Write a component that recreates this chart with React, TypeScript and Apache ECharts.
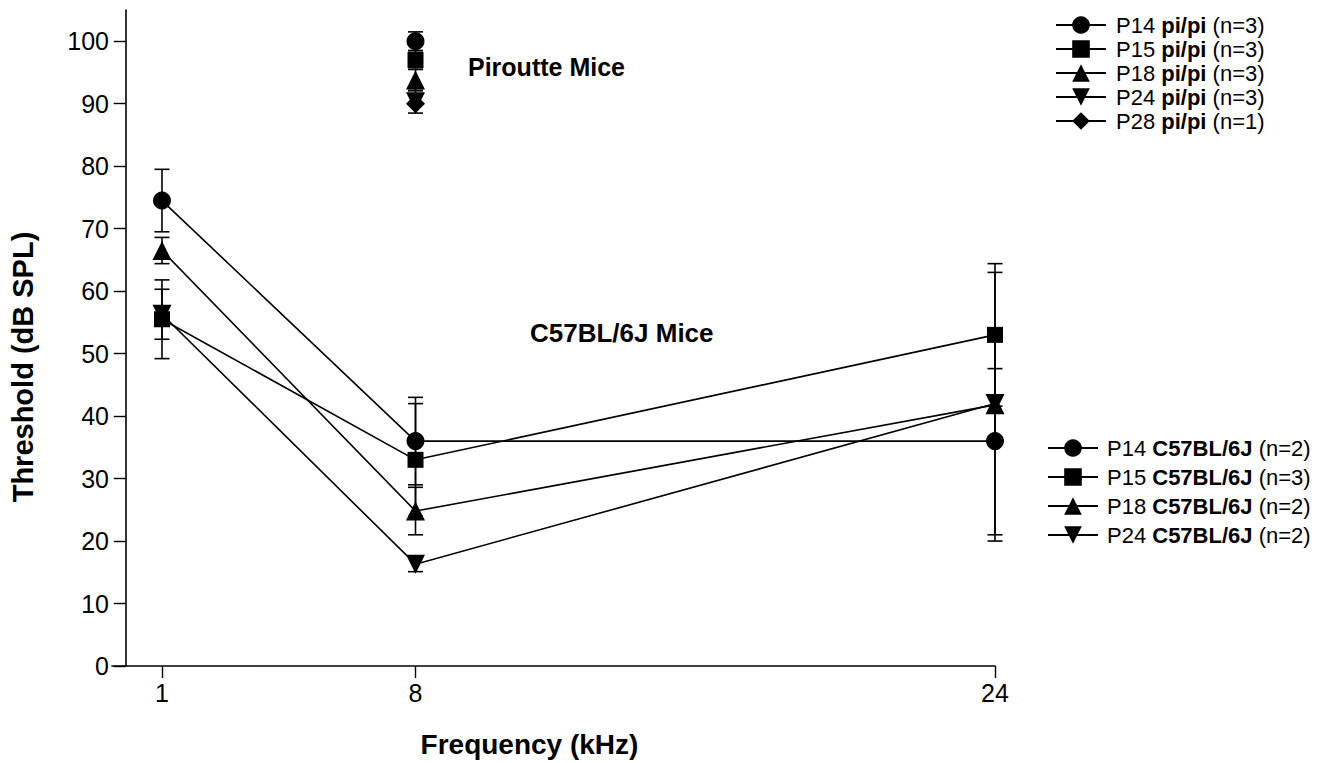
import React, { useEffect, useRef } from "react";
import * as echarts from "echarts";

const FONT = "'Liberation Sans', Arial, Helvetica, sans-serif";

// Frequencies (kHz)
const freqs = [1, 8, 24];
const xTickValues = [1, 8, 24];
const yTickValues = [0, 10, 20, 30, 40, 50, 60, 70, 80, 90, 100];

// C57BL/6J groups
const c57Ages = ["P14", "P15", "P18", "P24"];
const c57N = ["(n=2)", "(n=3)", "(n=2)", "(n=2)"];
const c57Symbols = ["circle", "rect", "triangle", "triangle"];
const c57Rotate = [0, 0, 0, 180];
const c57Sizes = [18, 16, 19, 19];
const c57P14 = [74.5, 36, 36];
const c57P15 = [55.5, 33, 53];
const c57P18 = [66.5, 24.8, 41.8];
const c57P24 = [56.3, 16.3, 42];
const c57P14Err = [5, 7, 16];
const c57P15Err = [6.3, 9, 11.4];
const c57P18Err = [2.1, 3.8, 5.8];
const c57P24Err = [4, 1.2, 21];
const c57Means = [c57P14, c57P15, c57P18, c57P24];
const c57Errs = [c57P14Err, c57P15Err, c57P18Err, c57P24Err];

// Piroutte (pi/pi) groups, measured at 8 kHz only
const piFreq = 8;
const piAges = ["P14", "P15", "P18", "P24", "P28"];
const piN = ["(n=3)", "(n=3)", "(n=3)", "(n=3)", "(n=1)"];
const piSymbols = ["circle", "rect", "triangle", "triangle", "diamond"];
const piRotate = [0, 0, 0, 180, 0];
const piSizes = [18, 16, 19, 19, 19];
const piMeans = [100, 97, 93.8, 90.3, 90];
const piErrs = [1.5, 1.5, 1.7, 1.8, 0];

export default function App() {
  const ref = useRef<HTMLDivElement>(null);

  useEffect(() => {
    if (!ref.current) return;
    const chart = echarts.init(ref.current, undefined, { renderer: "svg" });

    const piNames = piAges.map((a, i) => `${a} pi/pi ${piN[i]}`);
    const c57Names = c57Ages.map((a, i) => `${a} C57BL/6J ${c57N[i]}`);

    const errData: number[][] = [];
    c57Means.forEach((m, s) => {
      m.forEach((v, i) => {
        const e = c57Errs[s][i];
        if (e > 0) errData.push([freqs[i], v - e, v + e]);
      });
    });
    piMeans.forEach((v, i) => {
      const e = piErrs[i];
      if (e > 0) errData.push([piFreq, v - e, v + e]);
    });

    const lineStyle = { color: "#000", width: 1.6 };

    const series: any[] = [];
    series.push({
      type: "custom",
      name: "err",
      data: errData,
      encode: { x: 0, y: [1, 2] },
      z: 1,
      silent: true,
      renderItem: (params: any, api: any) => {
        const x = api.value(0);
        const lo = api.coord([x, api.value(1)]);
        const hi = api.coord([x, api.value(2)]);
        const hw = 7.5;
        const st = { stroke: "#000", lineWidth: 1.6 };
        return {
          type: "group",
          children: [
            { type: "line", shape: { x1: hi[0], y1: hi[1], x2: lo[0], y2: lo[1] }, style: st },
            { type: "line", shape: { x1: hi[0] - hw, y1: hi[1], x2: hi[0] + hw, y2: hi[1] }, style: st },
            { type: "line", shape: { x1: lo[0] - hw, y1: lo[1], x2: lo[0] + hw, y2: lo[1] }, style: st },
          ],
        };
      },
    });

    c57Means.forEach((m, s) => {
      series.push({
        type: "line",
        name: c57Names[s],
        data: freqs.map((f, i) => [f, m[i]]),
        symbol: c57Symbols[s],
        symbolRotate: c57Rotate[s],
        symbolSize: c57Sizes[s],
        showSymbol: true,
        lineStyle,
        itemStyle: { color: "#000", borderWidth: 0 },
        z: 3,
      });
    });

    piMeans.forEach((v, i) => {
      series.push({
        type: "line",
        name: piNames[i],
        data: [[piFreq, v]],
        symbol: piSymbols[i],
        symbolRotate: piRotate[i],
        symbolSize: piSizes[i],
        showSymbol: true,
        lineStyle,
        itemStyle: { color: "#000", borderWidth: 0 },
        z: 3,
      });
    });

    const makeRich = (gap: number) => ({
      s: { width: gap, fontSize: 22, fontFamily: FONT, lineHeight: 22 },
      n: { fontSize: 22, fontFamily: FONT, color: "#000", lineHeight: 22 },
      b: { fontSize: 22, fontFamily: FONT, color: "#000", fontWeight: "bold", lineHeight: 22 },
    });
    const fmt = (name: string) => {
      const parts = name.split(" ");
      return `{s|}{n|${parts[0]} }{b|${parts[1]}}{n| ${parts[2]}}`;
    };

    chart.setOption({
      animation: false,
      backgroundColor: "#fff",
      grid: { left: 112, right: 1333 - 995, top: 10, bottom: 80 },
      xAxis: {
        type: "value",
        min: -0.38,
        max: 24,
        name: "Frequency (kHz)",
        nameLocation: "middle",
        nameGap: 64,
        nameTextStyle: {
          fontFamily: FONT,
          fontSize: 28,
          fontWeight: "bold",
          color: "#000",
          padding: [0, 48, 0, 0],
        },
        axisLine: { show: true, lineStyle: { color: "#000", width: 1.6 } },
        axisTick: { show: true, length: 12, customValues: xTickValues, lineStyle: { color: "#000", width: 1.4 } },
        axisLabel: { customValues: xTickValues, fontFamily: FONT, fontSize: 25, color: "#000", margin: 14 },
        splitLine: { show: false },
      },
      yAxis: {
        type: "value",
        min: 0,
        max: 105,
        offset: -10,
        axisLine: { show: true, lineStyle: { color: "#000", width: 1.6 } },
        axisTick: { show: true, length: 12, customValues: yTickValues, lineStyle: { color: "#000", width: 1.4 } },
        axisLabel: { customValues: yTickValues, fontFamily: FONT, fontSize: 25, color: "#000", margin: 13 },
        splitLine: { show: false },
      },
      legend: [
        {
          data: piNames,
          orient: "vertical",
          left: 1050,
          top: 9,
          itemWidth: 50,
          itemHeight: 22,
          itemGap: 2,
          formatter: fmt,
          textStyle: { rich: makeRich(5), fontSize: 22, fontFamily: FONT, color: "#000" },
          selectedMode: false,
        },
        {
          data: c57Names,
          orient: "vertical",
          left: 1042,
          top: 432,
          itemWidth: 50,
          itemHeight: 22,
          itemGap: 7,
          formatter: fmt,
          textStyle: { rich: makeRich(4), fontSize: 22, fontFamily: FONT, color: "#000" },
          selectedMode: false,
        },
      ],
      graphic: [
        {
          type: "text",
          x: 23,
          y: 367,
          rotation: Math.PI / 2,
          style: {
            text: "Threshold (dB SPL)",
            font: `bold 29px ${FONT}`,
            fill: "#000",
            textAlign: "center",
            textVerticalAlign: "middle",
            align: "center",
            verticalAlign: "middle",
          },
        },
        {
          type: "text",
          x: 468,
          y: 67,
          style: {
            text: "Piroutte Mice",
            font: `bold 25px ${FONT}`,
            fill: "#000",
            textAlign: "left",
            textVerticalAlign: "middle",
            align: "left",
            verticalAlign: "middle",
          },
        },
        {
          type: "text",
          x: 530,
          y: 333,
          style: {
            text: "C57BL/6J Mice",
            font: `bold 26px ${FONT}`,
            fill: "#000",
            textAlign: "left",
            textVerticalAlign: "middle",
            align: "left",
            verticalAlign: "middle",
          },
        },
      ],
      series,
    });

    return () => chart.dispose();
  }, []);

  return (
    <div
      ref={ref}
      style={{ position: "fixed", left: 0, top: 0, width: 1333, height: 763, background: "#fff" }}
    />
  );
}
